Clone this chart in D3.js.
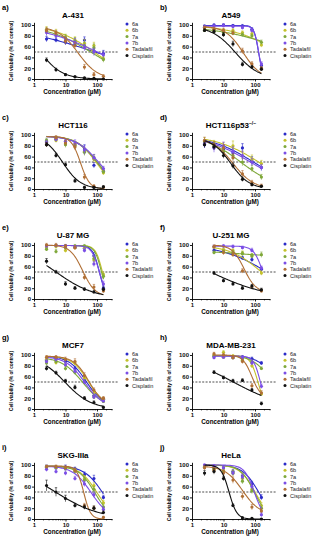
<!DOCTYPE html>
<html>
<head>
<meta charset="utf-8">
<script src="https://cdn.jsdelivr.net/npm/d3@7"></script>
<style>
  body { margin: 0; background: #fff; }
  svg { display: block; font-family: "Liberation Sans", Arial, sans-serif; }
</style>
</head>
<body>
<div id="canvas"></div>
<script>
// concentrations (uM) used in every panel
var conc = [2.5, 5, 10, 20, 40, 80, 160];
var cellLines = ["A-431", "A549", "HCT116", "HCT116p53", "U-87 MG", "U-251 MG", "MCF7", "MDA-MB-231", "SKG-IIIa", "HeLa"];
var panelLetters = ["a)", "b)", "c)", "d)", "e)", "f)", "g)", "h)", "i)", "j)"];
var seriesNames = ["6a", "6b", "7a", "7b", "Tadalafil", "Cisplatin"];
var xTicks = [1, 10, 100];
var yTicks = [0, 20, 40, 60, 80, 100];

// mean viability (% of control), one row per panel a..j
var viab6a = [
  [74, 72, 68, 65, 72, 52, 47], [98, 100, 100, 99, 98, 92, 25], [88, 93, 88, 82, 74, 44, 33],
  [82, 78, 73, 67, 76, 52, 40], [98, 99, 98, 96, 94, 80, 20], [null, 90, 88, 84, 76, 73, 55],
  [90, 94, 88, 75, 52, 25, 18], [null, 98, 98, 97, 96, 93, 85], [97, 95, 96, 93, 82, 75, 40],
  [98, 95, 95, 88, 80, 65, 40]
];
var viab6b = [
  [92, 86, 78, 72, 66, 62, 38], [95, 92, 90, 90, 86, 84, 63], [85, 90, 84, 82, 70, 55, 30],
  [88, 82, 78, 80, 62, 55, 47], [95, 97, 90, 95, 95, 72, 45], [null, 96, 92, 90, 85, 80, 48],
  [92, 86, 82, 85, 58, 30, 18], [null, 100, 105, 98, 90, 80, 28], [95, 96, 94, 90, 75, 62, 30],
  [97, 92, 90, 85, 75, 55, 25]
];
var viab7a = [
  [88, 82, 76, 70, 62, 58, 36], [90, 88, 86, 85, 82, 80, 68], [90, 92, 82, 80, 68, 58, 32],
  [85, 80, 70, 62, 50, 38, 22], [92, 88, 95, 98, 98, 75, 42], [null, 86, 88, 87, 84, 80, 82],
  [85, 88, 75, 68, 50, 22, 14], [null, 97, 96, 95, 90, 88, 75], [96, 95, 93, 88, 72, 55, 22],
  [96, 93, 88, 85, 70, 52, 20]
];
var viab7b = [
  [86, 80, 72, 68, 58, 50, 45], [96, 98, 99, 97, 95, 90, 28], [86, 92, 88, 85, 72, 58, 38],
  [84, 76, 80, 70, 62, 50, 40], [98, 99, 97, 96, 90, 65, 28], [null, 97, 98, 97, 95, 90, 57],
  [88, 92, 82, 70, 50, 22, 15], [null, 95, 96, 95, 95, 85, 42], [92, 88, 85, 75, 65, 45, 18],
  [100, 98, 95, 85, 78, 60, 8]
];
var viabTad = [
  [90, 85, 70, 62, 22, 8, 5], [95, 92, 90, 85, 52, 28, 20], [82, 95, 85, 78, 22, 5, 3],
  [90, 82, 76, 58, 28, 12, 6], [100, 100, 98, 95, 40, 22, 15], [null, 97, 86, 82, 52, 22, 15],
  [96, 96, 92, 88, 62, 35, 20], [null, 102, 100, 95, 88, 43, 30], [97, 97, 95, 90, 25, 20, 3],
  [95, 90, 85, 72, 42, 22, 15]
];
var viabCis = [
  [35, 17, 8, 4, 2, 1, 0], [90, 88, 82, 65, 27, 22, 18], [82, 62, 45, 15, 3, 3, 4],
  [82, 78, 62, 43, 18, 8, 5], [70, 50, 28, 20, 18, 13, 18], [null, 48, 34, 28, 20, 24, 17],
  [75, 67, 52, 40, 20, 12, 3], [null, 68, 58, 52, 53, 35, 10], [62, 50, 38, 25, 22, 20, 12],
  [85, 88, 75, 25, 2, 1, 0]
];

// SD error bars
var err6a = [
  [5, 4, 5, 6, 6, 5, 6], [2, 2, 2, 2, 3, 3, 4], [4, 3, 4, 6, 8, 5, 4], [6, 6, 5, 8, 8, 8, 6],
  [2, 2, 3, 3, 4, 6, 4], [null, 3, 3, 3, 3, 4, 4], [3, 3, 3, 4, 4, 4, 3], [null, 2, 2, 2, 3, 3, 3],
  [3, 3, 4, 3, 5, 6, 4], [2, 3, 4, 4, 5, 5, 5]
];
var err6b = [
  [5, 6, 5, 6, 7, 6, 5], [3, 3, 3, 3, 3, 4, 4], [4, 4, 5, 6, 7, 6, 4], [7, 8, 8, 9, 8, 8, 6],
  [3, 3, 4, 3, 3, 6, 5], [null, 3, 4, 3, 4, 4, 4], [3, 4, 4, 4, 4, 4, 3], [null, 3, 3, 3, 3, 4, 3],
  [3, 3, 3, 4, 5, 5, 4], [3, 4, 4, 5, 5, 5, 5]
];
var err7a = [
  [6, 6, 6, 7, 6, 7, 5], [3, 3, 3, 3, 3, 3, 4], [4, 4, 5, 6, 6, 6, 4], [6, 7, 7, 8, 7, 6, 5],
  [3, 4, 4, 3, 3, 5, 5], [null, 3, 3, 3, 4, 4, 5], [4, 4, 4, 4, 4, 3, 3], [null, 2, 2, 3, 3, 3, 3],
  [3, 3, 3, 4, 5, 5, 4], [3, 4, 4, 5, 5, 5, 4]
];
var err7b = [
  [6, 6, 6, 7, 6, 7, 5], [3, 3, 3, 3, 3, 4, 4], [4, 4, 5, 6, 8, 6, 4], [7, 8, 7, 8, 8, 7, 5],
  [2, 2, 3, 3, 4, 5, 5], [null, 3, 3, 3, 3, 4, 4], [4, 4, 4, 4, 4, 3, 3], [null, 2, 2, 2, 3, 3, 4],
  [4, 4, 4, 4, 5, 5, 4], [2, 3, 4, 4, 5, 5, 4]
];
var errTad = [
  [5, 5, 6, 6, 5, 4, 3], [3, 4, 4, 4, 5, 4, 3], [4, 4, 5, 6, 5, 3, 2], [6, 6, 6, 7, 6, 4, 3],
  [3, 3, 3, 4, 5, 5, 4], [null, 3, 4, 4, 4, 4, 3], [3, 3, 4, 5, 5, 4, 3], [null, 3, 3, 3, 4, 4, 4],
  [3, 3, 3, 4, 4, 4, 2], [4, 5, 5, 6, 6, 5, 4]
];
var errCis = [
  [4, 3, 2, 2, 1, 1, 1], [3, 3, 4, 5, 4, 3, 3], [4, 4, 3, 3, 2, 2, 2], [5, 5, 5, 5, 4, 3, 2],
  [5, 3, 4, 3, 3, 3, 4], [null, 3, 3, 3, 3, 3, 3], [4, 3, 3, 4, 3, 3, 2], [null, 3, 3, 3, 3, 3, 3],
  [10, 8, 6, 4, 4, 4, 3], [5, 5, 4, 3, 2, 1, 1]
];

// four-parameter logistic fits [top, bottom, IC50, hill]
var fit6a = [[100, 0, 87, 0.33], [99, 0, 130, 6], [98, 0, 100, 1.3], [100, 0, 89, 0.62], [99, 0, 120, 4],
  [100, 0, 239, 0.6], [98, 5, 45, 1.6], [99, 0, 500, 1.5], [98, 0, 150, 1.5], [100, 0, 130, 1.7]];
var fit6b = [[100, 0, 80, 0.7], [100, 0, 588, 0.58], [98, 0, 95, 1.4], [100, 0, 131, 0.62], [99, 0, 150, 4],
  [100, 0, 160, 0.85], [98, 5, 52, 1.7], [99, 0, 125, 3.5], [98, 0, 100, 1.6], [100, 0, 100, 1.8]];
var fit7a = [[100, 0, 63, 0.62], [100, 0, 1480, 0.38], [98, 0, 105, 1.3], [100, 0, 35, 0.76], [99, 0, 140, 4],
  [88, 80, 30, 1], [96, 3, 35, 1.3], [99, 0, 350, 1.5], [98, 0, 85, 1.7], [100, 0, 95, 2]];
var fit7b = [[100, 0, 104, 0.465], [98, 0, 132, 6], [98, 0, 115, 1.2], [100, 0, 71, 0.6], [99, 0, 120, 3.5],
  [98, 0, 180, 3], [97, 3, 40, 1.5], [98, 0, 150, 4], [98, 0, 65, 1.5], [100, 0, 95, 2.8]];
var fitTad = [[97, 0, 25, 1.39], [98, 0, 42, 1.55], [97, 0, 30, 3], [95, 0, 20, 1.32], [100, 5, 35, 2.2],
  [100, 12, 45, 2.3], [98, 5, 55, 1.8], [100, 20, 80, 3], [98, 0, 38, 4], [98, 8, 40, 1.6]];
var fitCis = [[100, 0, 1.58, 1.25], [98, 0, 24, 1.15], [100, 0, 8, 1.49], [95, 0, 17, 1.45], [100, 0, 5, 0.705],
  [100, 0, 3.85, 0.465], [100, 0, 9.5, 1.04], [100, 0, 20.5, 0.535], [100, 0, 4.8, 0.626], [100, 0, 15, 3.5]];

var colors = ["#2b2bc8", "#c4c22c", "#7fa83a", "#7b4ee6", "#b06f35", "#111111"];
var allViab = [viab6a, viab6b, viab7a, viab7b, viabTad, viabCis];
var allErr = [err6a, err6b, err7a, err7b, errTad, errCis];
var allFit = [fit6a, fit6b, fit7a, fit7b, fitTad, fitCis];

var svg = d3.select('#canvas').append('svg')
  .attr('width', 318)
  .attr('height', 550);

var x = d3.scaleLog().domain([1, 300]).range([34, 112]);
var y = d3.scaleLinear().domain([0, 105]).range([79, 22.3]);

function logistic(p, c) {
  return p[1] + (p[0] - p[1]) / (1 + Math.pow(c / p[2], p[3]));
}

cellLines.forEach(function(name, pi) {
  var g = svg.append('g')
    .attr('transform', 'translate(' + ((pi % 2) * 158) + ',' + (Math.floor(pi / 2) * 110) + ')');

  g.append('text').attr('x', 2).attr('y', 10)
    .attr('font-size', 7.5).attr('font-weight', 'bold').text(panelLetters[pi]);

  var title = g.append('text').attr('x', 73).attr('y', 18)
    .attr('text-anchor', 'middle').attr('font-size', 8).attr('font-weight', 'bold').text(name);
  if (name === 'HCT116p53') {
    title.append('tspan').attr('dy', -3).attr('font-size', 5).text('\u2212/\u2212');
  }

  // axes
  var yAxis = g.append('g').attr('transform', 'translate(34,0)')
    .call(d3.axisLeft(y).tickValues(yTicks).tickSize(2).tickSizeOuter(0).tickPadding(1));
  var xAxis = g.append('g').attr('transform', 'translate(0,79)')
    .call(d3.axisBottom(x).tickValues(xTicks).tickFormat(d3.format('d')).tickSize(2.5).tickSizeOuter(0).tickPadding(1.5));
  [yAxis, xAxis].forEach(function(a) {
    a.selectAll('path, line').attr('stroke', '#000').attr('stroke-width', 0.9);
    a.selectAll('text').attr('font-size', 6).attr('font-weight', 'bold').attr('fill', '#111')
      .attr('font-family', '"Liberation Sans", Arial, sans-serif');
  });

  var minor = [];
  [1, 10, 100].forEach(function(dec) {
    for (var k = 2; k <= 9; k++) { if (dec * k <= 300) minor.push(dec * k); }
  });
  g.selectAll('.minor').data(minor).enter().append('line')
    .attr('x1', function(d) { return x(d); }).attr('x2', function(d) { return x(d); })
    .attr('y1', 79).attr('y2', 80.5).attr('stroke', '#000').attr('stroke-width', 0.6);

  g.append('text').attr('transform', 'translate(13,51) rotate(-90)')
    .attr('text-anchor', 'middle').attr('font-size', 4.8).attr('font-weight', 'bold')
    .attr('textLength', 60).attr('lengthAdjust', 'spacingAndGlyphs')
    .text('Cell viability (% of control)');
  g.append('text').attr('x', 72).attr('y', 94)
    .attr('text-anchor', 'middle').attr('font-size', 6.3).attr('font-weight', 'bold')
    .text('Concentration (\u00b5M)');

  // 50% line
  g.append('line').attr('x1', 34).attr('x2', 119).attr('y1', y(50)).attr('y2', y(50))
    .attr('stroke', '#222').attr('stroke-width', 0.8).attr('stroke-dasharray', '2,1.4');

  var line = d3.line()
    .x(function(d) { return x(d[0]); })
    .y(function(d) { return y(d[1]); });

  seriesNames.forEach(function(s, si) {
    var vals = allViab[si][pi];
    var errs = allErr[si][pi];
    var fit = allFit[si][pi];
    var col = colors[si];

    var pts = conc.map(function(c, k) { return { c: c, v: vals[k], e: errs[k] }; })
      .filter(function(d) { return d.v !== null; });

    // fitted curve over the tested range
    var lo = Math.log10(pts[0].c), hi = Math.log10(160);
    var curve = d3.range(0, 61).map(function(k) {
      var c = Math.pow(10, lo + (hi - lo) * k / 60);
      return [c, logistic(fit, c)];
    });
    g.append('path').datum(curve).attr('d', line)
      .attr('fill', 'none').attr('stroke', col).attr('stroke-width', 1.1);

    var eb = g.selectAll('.eb' + si).data(pts).enter().append('g');
    eb.append('line')
      .attr('x1', function(d) { return x(d.c); }).attr('x2', function(d) { return x(d.c); })
      .attr('y1', function(d) { return y(d.v - d.e); }).attr('y2', function(d) { return y(d.v + d.e); })
      .attr('stroke', col).attr('stroke-width', 0.6);
    eb.append('line')
      .attr('x1', function(d) { return x(d.c) - 1.2; }).attr('x2', function(d) { return x(d.c) + 1.2; })
      .attr('y1', function(d) { return y(d.v + d.e); }).attr('y2', function(d) { return y(d.v + d.e); })
      .attr('stroke', col).attr('stroke-width', 0.6);
    eb.append('circle')
      .attr('cx', function(d) { return x(d.c); })
      .attr('cy', function(d) { return y(d.v); })
      .attr('r', 1.6).attr('fill', col);

    // legend
    g.append('circle').attr('cx', 127).attr('cy', 24 + si * 6.3).attr('r', 1.5).attr('fill', col);
    g.append('text').attr('x', 132).attr('y', 26 + si * 6.3)
      .attr('font-size', 5.6).attr('fill', '#222').text(s);
  });
});
</script>
</body>
</html>
